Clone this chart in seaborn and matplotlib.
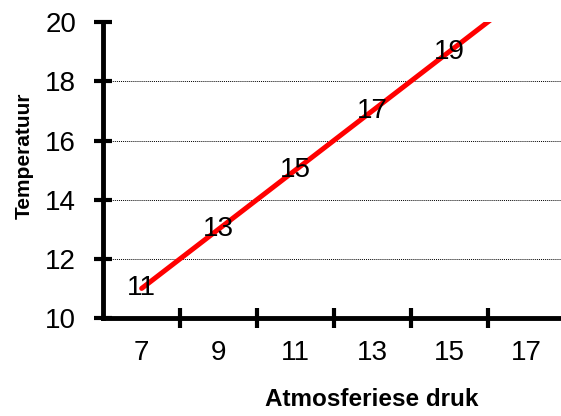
import matplotlib
matplotlib.use("Agg")
import matplotlib.pyplot as plt
import seaborn as sns

# Data
druk = [7, 9, 11, 13, 15, 17]
temperatuur = [11, 13, 15, 17, 19, 21]
y_ticks = [10, 12, 14, 16, 18, 20]

sns.set_style("white")
plt.rcParams['font.family'] = ['Liberation Sans', 'DejaVu Sans']
plt.rcParams['text.color'] = 'black'
plt.rcParams['axes.labelcolor'] = 'black'
plt.rcParams['xtick.color'] = 'black'
plt.rcParams['ytick.color'] = 'black'

fig = plt.figure(figsize=(5.61, 4.16), dpi=100)
ax = fig.add_axes([0.184, 0.2356, 0.822, 0.711])

pos = list(range(len(druk)))
sns.lineplot(x=pos, y=temperatuur, ax=ax, color='#ff0000', linewidth=3.6)

# data labels centred on the points
for p, t in zip(pos, temperatuur):
    if t <= y_ticks[-1]:
        ax.text(p, t, str(t), ha='center', va='center', fontsize=20, color='black')

# dotted grid lines
ax.hlines(y_ticks[1:-1], -0.5, len(druk) - 0.5, colors='black', linestyles=(0, (1, 1)), linewidth=0.7, zorder=0)

ax.set_xlim(-0.5, len(druk) - 0.5)
ax.set_ylim(y_ticks[0], y_ticks[-1])
ax.set_yticks(y_ticks)

# tick marks between categories, labels at category centres
ax.set_xticks([p + 0.5 for p in pos[:-1]])
ax.set_xticklabels([])
ax.set_xticks(pos, minor=True)
ax.set_xticklabels([str(d) for d in druk], minor=True)
ax.tick_params(axis='x', which='minor', bottom=True, length=0, labelsize=20, pad=16)
ax.tick_params(axis='x', which='major', bottom=True, direction='inout', length=14, width=3, color='black')
ax.tick_params(axis='y', left=True, direction='inout', length=13, width=3, color='black', labelsize=20, pad=13)

for s in ['top', 'right']:
    ax.spines[s].set_visible(False)
for s in ['left', 'bottom']:
    ax.spines[s].set_linewidth(3.5)
    ax.spines[s].set_color('black')

ax.set_xlabel('Atmosferiese druk', fontsize=17.5, fontweight='bold')
ax.set_ylabel('Temperatuur', fontsize=15, fontweight='bold')
ax.xaxis.set_label_coords(0.583, -0.238)
ax.yaxis.set_label_coords(-0.15, 0.55)

fig.savefig('out.png', dpi=100)
